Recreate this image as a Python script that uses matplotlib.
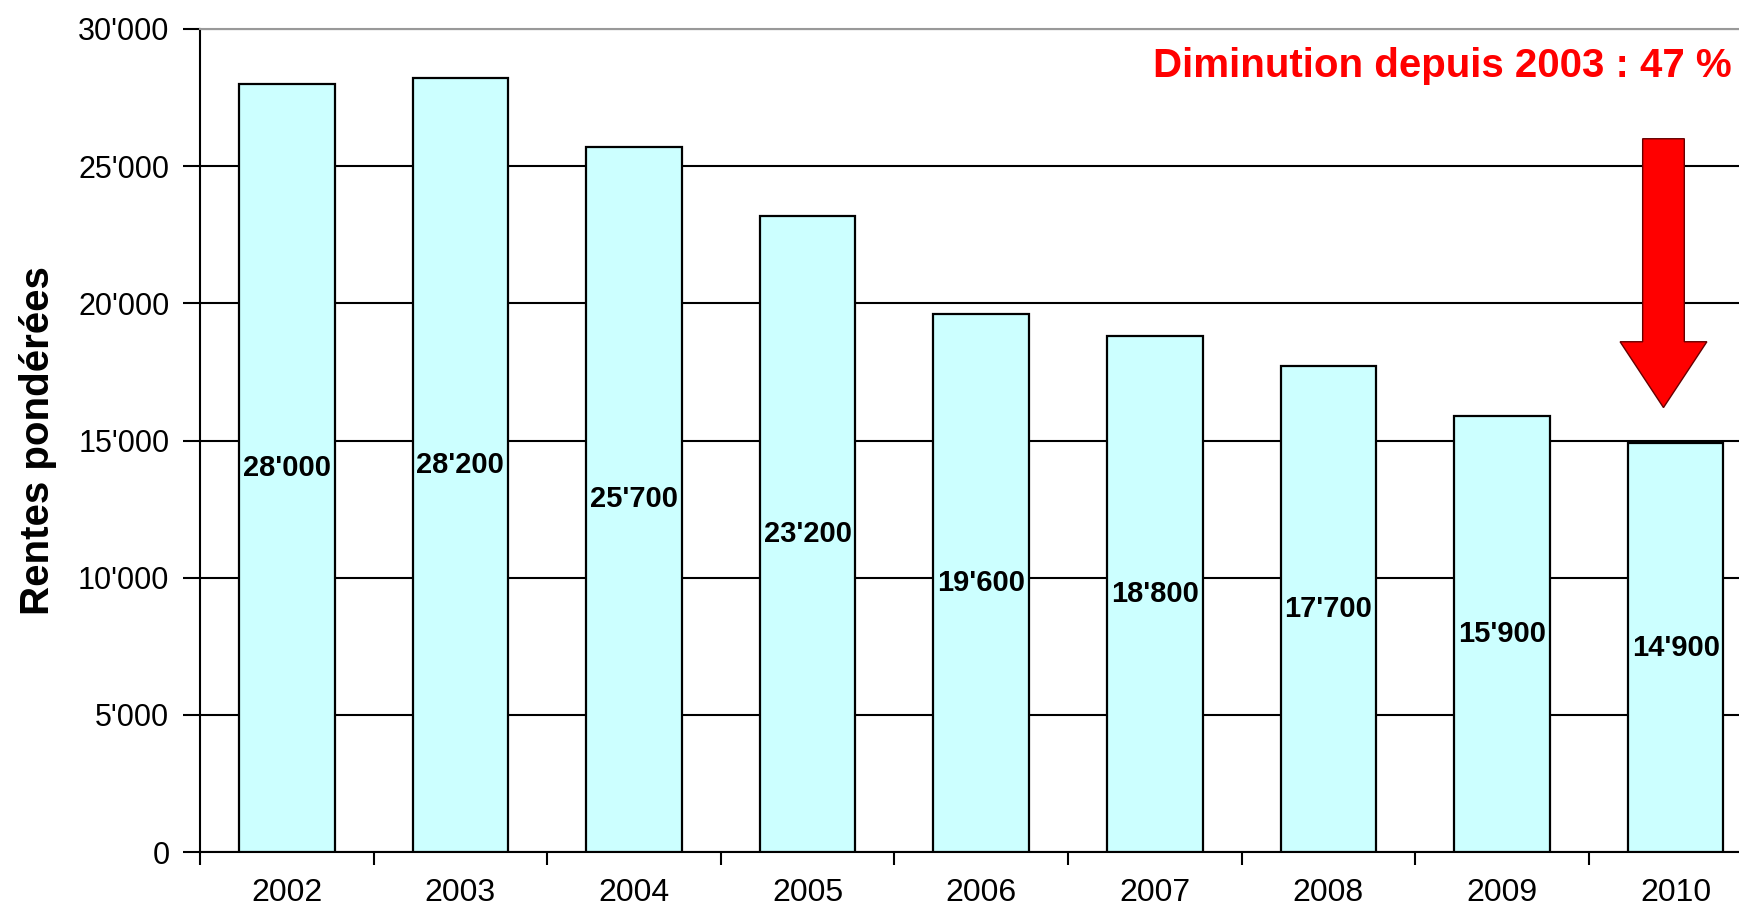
import matplotlib
matplotlib.use("Agg")
import matplotlib.pyplot as plt
from matplotlib.patches import FancyArrow
from matplotlib.ticker import FuncFormatter

plt.rcParams['font.family'] = ['Liberation Sans', 'DejaVu Sans']

years = ["2002", "2003", "2004", "2005", "2006", "2007", "2008", "2009", "2010"]
rentes = [28000, 28200, 25700, 23200, 19600, 18800, 17700, 15900, 14900]
note = "Diminution depuis 2003 : 47 %"


def apos(v):
    return f"{int(v):,}".replace(",", "'")


fig = plt.figure(figsize=(17.39, 9.09), dpi=100)
ax = fig.add_axes([200 / 1739, 57 / 909, 1539 / 1739, 823 / 909])

x = range(len(years))
ax.bar(x, rentes, width=0.55, color="#CCFFFF", edgecolor="black", linewidth=1.6, zorder=3)

for i, v in enumerate(rentes):
    ax.text(i, v / 2, apos(v), ha="center", va="center", fontsize=21, fontweight="bold", zorder=4)

ax.set_yticks(range(0, 30001, 5000))
ax.yaxis.set_major_formatter(FuncFormatter(lambda v, p: apos(v)))
ax.yaxis.grid(True, color="black", linewidth=1.5, zorder=0)

# years centred under bars, small ticks between categories
ax.set_xticks(list(x))
ax.set_xticklabels(years)
ax.set_xticks([i - 0.5 for i in range(len(years) + 1)], minor=True)
ax.tick_params(axis="x", which="major", length=0, pad=19, labelsize=23)
ax.tick_params(axis="x", which="minor", length=9, width=1.5, direction="out")
ax.tick_params(axis="y", length=12, width=1.5, pad=10, labelsize=22)

# limits after the ticks so they are not widened again
ax.set_ylim(0, 30000)
ax.set_xlim(-0.5, 8.365)

ax.spines["right"].set_visible(False)
ax.spines["top"].set_color("#999999")
ax.spines["top"].set_linewidth(1.5)
ax.spines["left"].set_linewidth(1.5)
ax.spines["bottom"].set_linewidth(1.5)

ax.set_ylabel("Rentes pondérées", fontsize=29, fontweight="bold")
ax.yaxis.set_label_coords(-0.093, 0.5)

ax.text(8.325, 28650, note, color="#FF0000", fontsize=29, fontweight="bold",
        ha="right", va="center", zorder=5)

arrow = FancyArrow(7.93, 26000, 0, -9800, width=0.24, head_width=0.5, head_length=2400,
                   length_includes_head=True, facecolor="#FF0000", edgecolor="#660000",
                   linewidth=1.0, zorder=5)
ax.add_patch(arrow)

fig.savefig("out.png", dpi=100)
